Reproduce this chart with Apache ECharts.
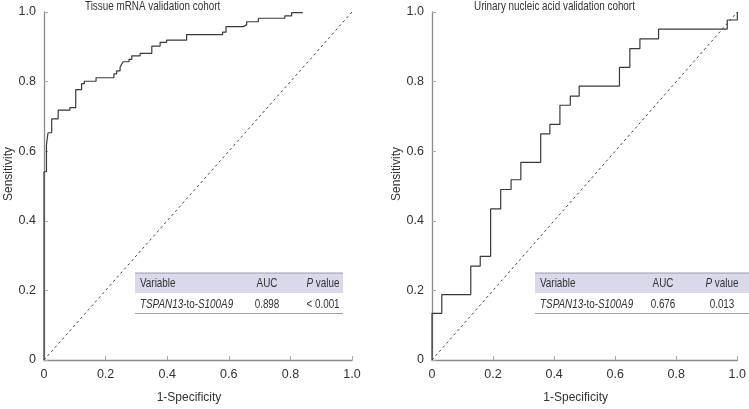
<!DOCTYPE html>
<html>
<head>
<meta charset="utf-8">
<script src="https://cdn.jsdelivr.net/npm/echarts@6/dist/echarts.min.js"></script>
<style>
html,body{margin:0;padding:0;background:#fff;}
#c{width:749px;height:409px;}
</style>
</head>
<body>
<div id="c"></div>
<script>
// ---- data ----
const titles = ['Tissue mRNA validation cohort', 'Urinary nucleic acid validation cohort'];
const ticks = [0, 0.2, 0.4, 0.6, 0.8, 1.0];
const tickLabels = ['0', '0.2', '0.4', '0.6', '0.8', '1.0'];
const xName = '1-Specificity';
const yName = 'Sensitivity';

const leftFpr = [0, 0, 0.008, 0.013, 0.025, 0.046, 0.084, 0.103, 0.122, 0.131, 0.169, 0.227, 0.236, 0.247, 0.252, 0.257, 0.276, 0.285, 0.312, 0.350, 0.377, 0.398, 0.463, 0.580, 0.591, 0.647, 0.658, 0.696, 0.782, 0.804, 0.840];
const leftTpr = [0, 0.541, 0.619, 0.653, 0.693, 0.718, 0.725, 0.777, 0.794, 0.801, 0.811, 0.822, 0.831, 0.841, 0.850, 0.857, 0.864, 0.874, 0.881, 0.902, 0.913, 0.919, 0.935, 0.942, 0.958, 0.963, 0.972, 0.982, 0.989, 0.998, 0.998];

const rightFpr = [0, 0, 0.032, 0.127, 0.158, 0.192, 0.225, 0.259, 0.291, 0.356, 0.386, 0.419, 0.453, 0.482, 0.614, 0.648, 0.681, 0.742, 0.967, 1.0];
const rightTpr = [0, 0.134, 0.188, 0.270, 0.298, 0.434, 0.490, 0.518, 0.568, 0.650, 0.677, 0.732, 0.758, 0.787, 0.841, 0.895, 0.923, 0.951, 0.977, 1.0];

const diagX = [0, 1];
const diagY = [0, 1];

const tableHeader = ['Variable', 'AUC', 'P value'];
const tableVariable = 'TSPAN13-to-S100A9';
const leftAUC = '0.898', leftP = '< 0.001';
const rightAUC = '0.676', rightP = '0.013';

// ---- chart ----
const FONT = "'Liberation Sans', Arial, sans-serif";
const TXT = '#333';
const AX = '#8a8a8a';
const SX = 0.76; // horizontal squeeze to mimic the condensed face

function pairs(xs, ys) { return xs.map((x, i) => [x, ys[i]]); }
function lab(v) { return tickLabels[ticks.findIndex(t => Math.abs(t - v) < 1e-6)]; }

function xAxis(idx) {
  return {
    type: 'value', gridIndex: idx, min: 0, max: 1, interval: 0.2,
    axisLine: { show: true, onZero: false, lineStyle: { color: AX, width: 1.3 } },
    axisTick: { show: true, inside: true, length: 4, lineStyle: { color: '#aaa' } },
    splitLine: { show: false },
    axisLabel: { color: TXT, fontSize: 12.5, fontFamily: FONT, margin: 8, formatter: lab },
    name: xName, nameLocation: 'middle', nameGap: 32,
    nameTextStyle: { color: TXT, fontSize: 12, fontFamily: FONT, padding: [0, 18, 0, 0] }
  };
}
function yAxis(idx) {
  return {
    type: 'value', gridIndex: idx, min: 0, max: 1, interval: 0.2,
    axisLine: { show: true, onZero: false, lineStyle: { color: AX, width: 1.3 } },
    axisTick: { show: true, inside: true, length: 4, lineStyle: { color: '#aaa' } },
    splitLine: { show: false },
    axisLabel: { color: TXT, fontSize: 12.5, fontFamily: FONT, margin: 8, formatter: lab },
    name: yName, nameLocation: 'middle', nameGap: 25, nameRotate: 90,
    nameTextStyle: { color: TXT, fontSize: 12, fontFamily: FONT, padding: [0, 0, 0, 24] }
  };
}

function txt(x, y, text, align, extra) {
  return Object.assign({ type: 'text', x: x, y: y, scaleX: SX, z: 12,
    style: { text: text, textAlign: align, textVerticalAlign: 'middle', fontFamily: FONT, fontSize: 13, fill: TXT,
      rich: { i: { fontStyle: 'italic', fontFamily: FONT, fontSize: 13, fill: TXT } } } }, extra || {});
}

function table(x0, x1, aucX, pX, auc, p) {
  return [
    { type: 'rect', shape: { x: x0, y: 273, width: x1 - x0, height: 20 }, style: { fill: '#d9d9eb' }, z: 10 },
    { type: 'line', shape: { x1: x0, y1: 273, x2: x1, y2: 273 }, style: { stroke: '#9a9aa8', lineWidth: 1 }, z: 11 },
    { type: 'line', shape: { x1: x0, y1: 313.5, x2: x1, y2: 313.5 }, style: { stroke: '#a0a0a0', lineWidth: 1 }, z: 11 },
    txt(x0 + 5, 283.5, tableHeader[0], 'left'),
    txt(aucX, 283.5, tableHeader[1], 'center'),
    txt(pX, 283.5, '{i|P} value', 'center'),
    txt(x0 + 5, 304, '{i|TSPAN13}-to-{i|S100A9}', 'left'),
    txt(aucX, 304, auc, 'center'),
    txt(pX, 304, p, 'center')
  ];
}

const chart = echarts.init(document.getElementById('c'), null, { renderer: 'canvas' });
chart.setOption({
  backgroundColor: '#fff',
  animation: false,
  grid: [
    { left: 44, top: 12, width: 308, height: 355 },
    { left: 432, top: 12, width: 310, height: 355 }
  ],
  xAxis: [xAxis(0), xAxis(1)],
  yAxis: [yAxis(0), yAxis(1)],
  series: [
    { type: 'line', xAxisIndex: 0, yAxisIndex: 0, data: pairs(diagX, diagY), symbol: 'none', silent: true,
      lineStyle: { color: '#444', width: 1, type: [2.5, 3] } },
    { type: 'line', xAxisIndex: 0, yAxisIndex: 0, data: pairs(leftFpr, leftTpr), step: 'end', symbol: 'none',
      lineStyle: { color: '#3a3a3a', width: 1.2 } },
    { type: 'line', xAxisIndex: 1, yAxisIndex: 1, data: pairs(diagX, diagY), symbol: 'none', silent: true,
      lineStyle: { color: '#444', width: 1, type: [2.5, 3] } },
    { type: 'line', xAxisIndex: 1, yAxisIndex: 1, data: pairs(rightFpr, rightTpr), step: 'end', symbol: 'none',
      lineStyle: { color: '#3a3a3a', width: 1.2 } }
  ],
  graphic: [].concat(
    [txt(85, 6.5, titles[0], 'left', { z: 12 }), txt(474, 6.5, titles[1], 'left')],
    table(135, 343, 267, 323, leftAUC, leftP),
    table(535, 749, 663, 722, rightAUC, rightP)
  )
});
</script>
</body>
</html>
